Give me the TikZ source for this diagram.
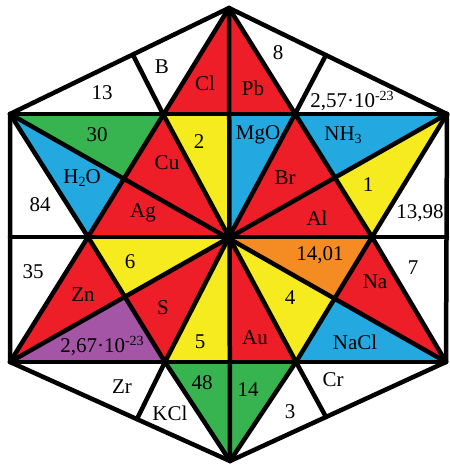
\documentclass[tikz,border=0pt]{standalone}
\usepackage{fontspec}
\setmainfont{Liberation Serif}
\definecolor{cR}{RGB}{237,30,40}
\definecolor{cY}{RGB}{245,235,30}
\definecolor{cG}{RGB}{55,180,80}
\definecolor{cB}{RGB}{35,168,224}
\definecolor{cP}{RGB}{165,85,165}
\definecolor{cO}{RGB}{245,140,35}
\newcommand{\sbs}[1]{\raisebox{-0.3ex}{\fontsize{14}{14}\selectfont #1}}
\newcommand{\sps}[1]{\raisebox{0.7ex}{\fontsize{14}{14}\selectfont #1}}
\begin{document}
\begin{tikzpicture}[x=1pt,y=-1pt,
  edge/.style={line width=4.5pt, line join=round, line cap=round, draw=black},
  lab/.style={font=\fontsize{21}{21}\selectfont, inner sep=0pt, text=black}]
\useasboundingbox (0,0) rectangle (449,465);
% main points
\coordinate (T) at (229,8);
\coordinate (B) at (230,461);
\coordinate (UL) at (10,114);
\coordinate (UR) at (447,114);
\coordinate (LL) at (10,362);
\coordinate (LR) at (446,362);
\coordinate (C) at (229,237);
\coordinate (ML) at (10,237);
\coordinate (MR) at (447,237);
\coordinate (TM) at (229,114);
\coordinate (BM) at (229,362);
\coordinate (P1) at (163,114);
\coordinate (P2) at (295,114);
\coordinate (Q) at (88,237);
\coordinate (R) at (372,237);
\coordinate (P5) at (165,362);
\coordinate (P4) at (296,362);
\coordinate (E1) at (133,55);
\coordinate (E2) at (326,55);
\coordinate (E3) at (137,419);
\coordinate (E4) at (326,417);
\coordinate (X1) at (intersection of T--Q and UL--C);
\coordinate (X2) at (intersection of T--R and UR--C);
\coordinate (X3) at (intersection of Q--P5 and LL--C);
\coordinate (X4) at (intersection of R--P4 and LR--C);
% fills
\fill[white] (T)--(UR)--(LR)--(B)--(LL)--(UL)--cycle;
\fill[cR] (T)--(P1)--(TM)--cycle;
\fill[cR] (T)--(TM)--(P2)--cycle;
\fill[cR] (P1)--(X1)--(C)--cycle;
\fill[cR] (X1)--(Q)--(C)--cycle;
\fill[cR] (P2)--(X2)--(C)--cycle;
\fill[cR] (X2)--(R)--(C)--cycle;
\fill[cR] (Q)--(X3)--(LL)--cycle;
\fill[cR] (X3)--(P5)--(C)--cycle;
\fill[cR] (R)--(LR)--(X4)--cycle;
\fill[cR] (C)--(P4)--(BM)--cycle;
\fill[cY] (P1)--(TM)--(C)--cycle;
\fill[cY] (UR)--(R)--(X2)--cycle;
\fill[cY] (Q)--(C)--(X3)--cycle;
\fill[cY] (C)--(P5)--(BM)--cycle;
\fill[cY] (C)--(X4)--(P4)--cycle;
\fill[cG] (UL)--(P1)--(X1)--cycle;
\fill[cG] (P5)--(B)--(BM)--cycle;
\fill[cG] (BM)--(P4)--(B)--cycle;
\fill[cB] (UL)--(X1)--(Q)--cycle;
\fill[cB] (TM)--(P2)--(C)--cycle;
\fill[cB] (P2)--(UR)--(X2)--cycle;
\fill[cB] (X4)--(LR)--(P4)--cycle;
\fill[cP] (LL)--(X3)--(P5)--cycle;
\fill[cO] (C)--(R)--(X4)--cycle;
% lines
\draw[edge] (T)--(UR)--(LR)--(B)--(LL)--(UL)--cycle;
\draw[edge] (UL)--(UR);
\draw[edge] (LL)--(LR);
\draw[edge] (ML)--(MR);
\draw[edge] (T)--(B);
\draw[edge] (UL)--(LR);
\draw[edge] (UR)--(LL);
\draw[edge] (T)--(Q)--(P5)--(B);
\draw[edge] (T)--(R)--(P4)--(B);
\draw[edge] (UL)--(Q)--(LL);
\draw[edge] (UR)--(R)--(LR);
\draw[edge] (E1)--(P1)--(C)--(P4)--(E4);
\draw[edge] (E2)--(P2)--(C)--(P5)--(E3);
% labels
\node[lab] (t13) at (102,93) {13};
\node[lab] (tB) at (162,67) {B};
\node[lab] (tCl) at (205,83) {Cl};
\node[lab] (t30) at (97,135) {30};
\node[lab] (t2) at (199,142) {2};
\node[lab] (tCu) at (167,163) {Cu};
\node[lab] (tH2O) at (82,178) {H\sbs{2}O};
\node[lab] (t84) at (40,205) {84};
\node[lab] (tAg) at (143,213) {Ag};
\node[lab] (t8) at (278,53) {8};
\node[lab] (tPb) at (253,88) {Pb};
\node[lab] (t257) at (352,101) {2,57·10\sps{-23}};
\node[lab] (tMgO) at (258,135) {MgO};
\node[lab] (tNH3) at (343,135) {NH\sbs{3}};
\node[lab] (tBr) at (285,178) {Br};
\node[lab] (t1) at (368,185) {1};
\node[lab] (tAl) at (317,218) {Al};
\node[lab] (t1398) at (420,213) {13,98};
\node[lab] (t35) at (33,272) {35};
\node[lab] (t6) at (130,262) {6};
\node[lab] (tZn) at (83,295) {Zn};
\node[lab] (tS) at (163,308) {S};
\node[lab] (t267) at (102,346) {2,67·10\sps{-23}};
\node[lab] (t5) at (200,342) {5};
\node[lab] (tZr) at (122,387) {Zr};
\node[lab] (t48) at (202,383) {48};
\node[lab] (tKCl) at (170,413) {KCl};
\node[lab] (t1401) at (320,255) {14,01};
\node[lab] (t7) at (413,268) {7};
\node[lab] (tNa) at (375,282) {Na};
\node[lab] (t4) at (290,298) {4};
\node[lab] (tAu) at (255,338) {Au};
\node[lab] (tNaCl) at (355,342) {NaCl};
\node[lab] (tCr) at (333,380) {Cr};
\node[lab] (t14) at (248,390) {14};
\node[lab] (t3) at (290,412) {3};
\end{tikzpicture}
\end{document}
